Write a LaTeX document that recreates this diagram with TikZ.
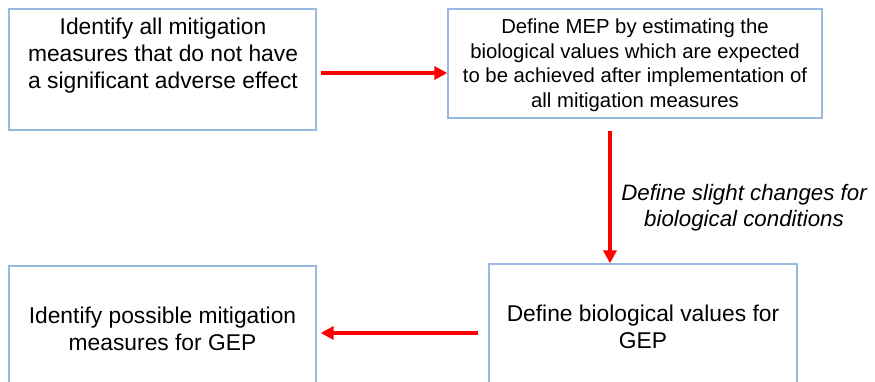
\documentclass[tikz,border=0pt]{standalone}
\usepackage{fontspec}
\setmainfont{Liberation Sans}
\usepackage{tikz}
\usetikzlibrary{calc}
\usetikzlibrary{arrows.meta}
\usetikzlibrary{positioning}
\definecolor{boxblue}{RGB}{152,186,226}
\tikzstyle{stepbox}=[draw=boxblue,line width=1.3pt,rectangle,align=center,inner sep=0]
\tikzstyle{flow}=[draw=red,line width=4pt,-{Triangle[length=13pt,width=13pt]}]
\tikzstyle{bigtext}=[font=\fontsize{22.8}{27}\selectfont,align=center]

\begin{document}
\begin{tikzpicture}[x=1pt,y=-1pt]
\useasboundingbox (0,0) rectangle (875,382);
\clip (0,0) rectangle (875,382);
% boxes
\node[stepbox,minimum width=307pt,minimum height=121pt] (tl) at (162.5,69.5) {};
\node[bigtext] (tltext) at (163,56) {Identify all mitigation\\measures that do not have\\a significant adverse effect};
\node[stepbox,minimum width=374pt,minimum height=109pt] (tr) at (635,63.5) {};
\node[font=\fontsize{20.3}{24.5}\selectfont,align=center] (trtext) at (635,65.5)
      {Define MEP by estimating the\\biological values which are expected\\to be achieved after implementation of\\all mitigation measures};
\node[stepbox,bigtext,minimum width=308pt,minimum height=126pt] (br) at (643,327)
      {Define biological values for\\GEP};
\node[stepbox,bigtext,minimum width=307pt,minimum height=126pt] (bl) at (162.5,329)
      {Identify possible mitigation\\measures for GEP};
% arrows
\draw[flow] ([xshift=4,yshift=-3.5]tl.east) -- ([yshift=-3.5]tl.east -| tr.west);
\coordinate (vtop) at ([xshift=-25,yshift=-12]tr.south);
\draw[flow] (vtop) -- (vtop |- br.north);
\draw[flow] ([xshift=-10,yshift=-6]br.west) -- ([xshift=4,yshift=-6]br.west -| bl.east);
\node[font=\fontsize{22.3}{26}\selectfont\itshape,align=center] (lbl) at (744,208)
      {Define slight changes for\\biological conditions};
\end{tikzpicture}
\end{document}
